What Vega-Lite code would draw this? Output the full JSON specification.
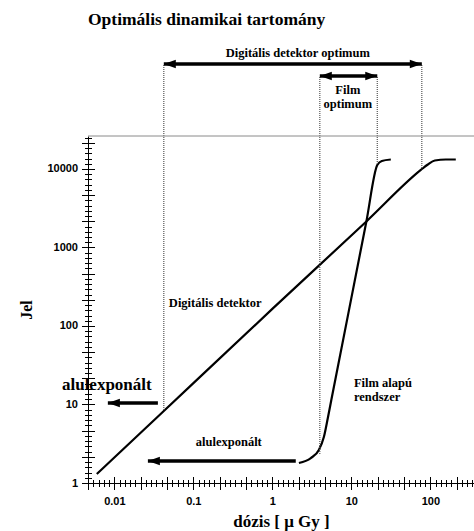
{
  "$schema": "https://vega.github.io/schema/vega-lite/v6.json",
  "autosize": {"type": "none"},
  "width": 386,
  "height": 347,
  "padding": {"left": 88, "top": 136, "right": 0, "bottom": 48},
  "background": "white",
  "title": {
    "text": "Optimális dinamikai tartomány",
    "anchor": "start",
    "frame": "group",
    "font": "Liberation Serif",
    "fontSize": 17.5,
    "fontWeight": "bold",
    "color": "black",
    "baseline": "alphabetic",
    "offset": 4
  },
  "config": {"view": {"stroke": null}},
  "datasets": {
    "curves": [
      {"series": "Digitális", "d": 0.006, "v": 1.3},
      {"series": "Digitális", "d": 0.0423, "v": 8.27},
      {"series": "Digitális", "d": 1, "v": 165},
      {"series": "Digitális", "d": 15.5, "v": 2144},
      {"series": "Digitális", "d": 75.8, "v": 9710},
      {"series": "Digitális", "d": 93, "v": 11400},
      {"series": "Digitális", "d": 114, "v": 12830},
      {"series": "Digitális", "d": 157, "v": 13210},
      {"series": "Digitális", "d": 210, "v": 13210},
      {"series": "Film", "d": 2.17, "v": 1.8},
      {"series": "Film", "d": 3.07, "v": 2.08},
      {"series": "Film", "d": 3.88, "v": 2.63},
      {"series": "Film", "d": 4.49, "v": 3.85},
      {"series": "Film", "d": 5.04, "v": 6.73},
      {"series": "Film", "d": 5.58, "v": 11.4},
      {"series": "Film", "d": 15.5, "v": 2144},
      {"series": "Film", "d": 21.3, "v": 11240},
      {"series": "Film", "d": 24.3, "v": 12650},
      {"series": "Film", "d": 31.6, "v": 13210}
    ],
    "dotted": [
      {"d": 0.0423, "v": 211000, "v2": 8.5},
      {"d": 3.99, "v": 148600, "v2": 2.3},
      {"d": 21.3, "v": 148600, "v2": 11240},
      {"d": 78, "v": 211000, "v2": 9900}
    ],
    "arrows": [
      {"arrow": "Digitális optimum", "d": 0.0423, "d2": 78, "v": 217700},
      {"arrow": "Film optimum", "d": 3.99, "d2": 21.3, "v": 153000},
      {"arrow": "alulexponált bal", "d": 0.00828, "d2": 0.0356, "v": 10.45},
      {"arrow": "alulexponált alsó", "d": 0.0266, "d2": 1.98, "v": 1.91}
    ],
    "heads": [
      {"d": 0.0423, "v": 217700, "dir": "left"},
      {"d": 78, "v": 217700, "dir": "right"},
      {"d": 3.99, "v": 153000, "dir": "left"},
      {"d": 21.3, "v": 153000, "dir": "right"},
      {"d": 0.00828, "v": 10.45, "dir": "left"},
      {"d": 0.0266, "v": 1.91, "dir": "left"}
    ],
    "labelsCenter": [
      {"label": "Digitális detektor optimum", "d": 2.1, "v": 300600},
      {"label": "Film", "d": 9.03, "v": 100000},
      {"label": "optimum", "d": 9.03, "v": 67300},
      {"label": "alulexponált", "d": 0.281, "v": 3.33}
    ],
    "labelsLeft": [
      {"label": "Digitális detektor", "d": 0.049, "v": 196},
      {"label": "Film alapú", "d": 10.8, "v": 18.8},
      {"label": "rendszer", "d": 10.8, "v": 12.5}
    ],
    "labelsBig": [
      {"label": "alulexponált", "d": 0.00804, "v": 17.7}
    ],
    "border": [
      {"v": 26300}
    ]
  },
  "layer": [
    {
      "data": {"name": "curves"},
      "mark": {"type": "line", "color": "black", "strokeWidth": 2.2, "interpolate": "monotone"},
      "encoding": {
        "x": {
          "field": "d", "type": "quantitative",
          "scale": {"type": "log", "domain": [0.004642, 357], "nice": false},
          "axis": {
            "orient": "bottom",
            "values": [0.004642, 0.005412, 0.00631, 0.007356, 0.008577, 0.01, 0.01166, 0.01359, 0.01585, 0.01848, 0.02154, 0.02512, 0.02929, 0.03415, 0.03981, 0.04642, 0.05412, 0.0631, 0.07356, 0.08577, 0.1, 0.1166, 0.1359, 0.1585, 0.1848, 0.2154, 0.2512, 0.2929, 0.3415, 0.3981, 0.4642, 0.5412, 0.631, 0.7356, 0.8577, 1, 1.166, 1.359, 1.585, 1.848, 2.154, 2.512, 2.929, 3.415, 3.981, 4.642, 5.412, 6.31, 7.356, 8.577, 10, 11.66, 13.59, 15.85, 18.48, 21.54, 25.12, 29.29, 34.15, 39.81, 46.42, 54.12, 63.1, 73.56, 85.77, 100, 116.6, 135.9, 158.5, 184.8, 215.4, 251.2, 292.9, 341.5],
            "title": "dózis [ μ Gy ]",
            "titleFont": "Liberation Serif", "titleFontSize": 17, "titleFontWeight": "bold", "titleColor": "black", "titlePadding": 7,
            "labelExpr": "abs(log(datum.value)/LN10 - round(log(datum.value)/LN10)) < 0.005 ? toString(datum.value) : ''",
            "labelFont": "Liberation Sans", "labelFontWeight": "bold", "labelFontSize": 11, "labelColor": "black", "labelPadding": 6,
            "labelOverlap": false, "labelFlush": false, "labelBound": false,
            "tickSize": {"condition": {"test": "abs(3*log(datum.value)/LN10 - round(3*log(datum.value)/LN10)) < 0.02", "value": 6.5}, "value": 3.5},
            "tickColor": "black", "tickWidth": 1, "domainColor": "black", "domainWidth": 1, "grid": false
          }
        },
        "y": {
          "field": "v", "type": "quantitative",
          "scale": {"type": "log", "domain": [1, 26300], "nice": false},
          "axis": {
            "orient": "left",
            "values": [1, 1.166, 1.359, 1.585, 1.848, 2.154, 2.512, 2.929, 3.415, 3.981, 4.642, 5.412, 6.31, 7.356, 8.577, 10, 11.66, 13.59, 15.85, 18.48, 21.54, 25.12, 29.29, 34.15, 39.81, 46.42, 54.12, 63.1, 73.56, 85.77, 100, 116.6, 135.9, 158.5, 184.8, 215.4, 251.2, 292.9, 341.5, 398.1, 464.2, 541.2, 631, 735.6, 857.7, 1000, 1166, 1359, 1585, 1848, 2154, 2512, 2929, 3415, 3981, 4642, 5412, 6310, 7356, 8577, 10000, 11660, 13590, 15850, 18480, 21540, 25120],
            "title": "Jel",
            "titleFont": "Liberation Serif", "titleFontSize": 16, "titleFontWeight": "bold", "titleColor": "black", "titlePadding": 12,
            "labelExpr": "abs(log(datum.value)/LN10 - round(log(datum.value)/LN10)) < 0.005 ? toString(datum.value) : ''",
            "labelFont": "Liberation Sans", "labelFontWeight": "bold", "labelFontSize": 11, "labelColor": "black", "labelPadding": 4,
            "labelOverlap": false, "labelFlush": false, "labelBound": false,
            "tickSize": {"condition": {"test": "abs(3*log(datum.value)/LN10 - round(3*log(datum.value)/LN10)) < 0.02", "value": 6.5}, "value": 3.5},
            "tickColor": "black", "tickWidth": 1, "domainColor": "black", "domainWidth": 1, "grid": false
          }
        },
        "detail": {"field": "series", "type": "nominal"}
      }
    },
    {
      "data": {"name": "dotted"},
      "mark": {"type": "rule", "color": "#555555", "strokeWidth": 1.2, "strokeDash": [1, 1]},
      "encoding": {
        "x": {
          "field": "d", "type": "quantitative",
          "scale": {"type": "log", "domain": [0.004642, 357], "nice": false},
          "axis": {
            "orient": "bottom",
            "values": [0.004642, 0.005412, 0.00631, 0.007356, 0.008577, 0.01, 0.01166, 0.01359, 0.01585, 0.01848, 0.02154, 0.02512, 0.02929, 0.03415, 0.03981, 0.04642, 0.05412, 0.0631, 0.07356, 0.08577, 0.1, 0.1166, 0.1359, 0.1585, 0.1848, 0.2154, 0.2512, 0.2929, 0.3415, 0.3981, 0.4642, 0.5412, 0.631, 0.7356, 0.8577, 1, 1.166, 1.359, 1.585, 1.848, 2.154, 2.512, 2.929, 3.415, 3.981, 4.642, 5.412, 6.31, 7.356, 8.577, 10, 11.66, 13.59, 15.85, 18.48, 21.54, 25.12, 29.29, 34.15, 39.81, 46.42, 54.12, 63.1, 73.56, 85.77, 100, 116.6, 135.9, 158.5, 184.8, 215.4, 251.2, 292.9, 341.5],
            "title": null, "labels": false, "domain": false, "grid": false,
            "tickSize": {"condition": {"test": "abs(3*log(datum.value)/LN10 - round(3*log(datum.value)/LN10)) < 0.02", "value": -6.5}, "value": -3.5},
            "tickColor": "black", "tickWidth": 1
          }
        },
        "y": {
          "field": "v", "type": "quantitative",
          "scale": {"type": "log", "domain": [1, 26300], "nice": false},
          "axis": {
            "orient": "left",
            "values": [1, 1.166, 1.359, 1.585, 1.848, 2.154, 2.512, 2.929, 3.415, 3.981, 4.642, 5.412, 6.31, 7.356, 8.577, 10, 11.66, 13.59, 15.85, 18.48, 21.54, 25.12, 29.29, 34.15, 39.81, 46.42, 54.12, 63.1, 73.56, 85.77, 100, 116.6, 135.9, 158.5, 184.8, 215.4, 251.2, 292.9, 341.5, 398.1, 464.2, 541.2, 631, 735.6, 857.7, 1000, 1166, 1359, 1585, 1848, 2154, 2512, 2929, 3415, 3981, 4642, 5412, 6310, 7356, 8577, 10000, 11660, 13590, 15850, 18480, 21540, 25120],
            "title": null, "labels": false, "domain": false, "grid": false,
            "tickSize": {"condition": {"test": "abs(3*log(datum.value)/LN10 - round(3*log(datum.value)/LN10)) < 0.02", "value": -6.5}, "value": -3.5},
            "tickColor": "black", "tickWidth": 1
          }
        },
        "y2": {"field": "v2"}
      }
    },
    {
      "data": {"name": "border"},
      "mark": {"type": "rule", "color": "#8a8a8a", "strokeWidth": 1},
      "encoding": {
        "y": {"field": "v", "type": "quantitative", "axis": null}
      }
    },
    {
      "data": {"name": "arrows"},
      "mark": {"type": "rule", "color": "black", "strokeWidth": 3.5},
      "encoding": {
        "x": {"field": "d", "type": "quantitative", "axis": null},
        "x2": {"field": "d2"},
        "y": {"field": "v", "type": "quantitative", "axis": null}
      }
    },
    {
      "data": {"name": "heads"},
      "mark": {"type": "point", "filled": true, "color": "black", "opacity": 1, "size": 144, "strokeWidth": 0},
      "encoding": {
        "x": {"field": "d", "type": "quantitative", "axis": null},
        "y": {"field": "v", "type": "quantitative", "axis": null},
        "shape": {
          "field": "dir", "type": "nominal", "legend": null,
          "scale": {"domain": ["left", "right"], "range": ["M0,0L2,-0.7L2,0.7Z", "M0,0L-2,-0.7L-2,0.7Z"]}
        }
      }
    },
    {
      "data": {"name": "labelsCenter"},
      "mark": {"type": "text", "font": "Liberation Serif", "fontSize": 12.5, "fontWeight": "bold", "color": "black", "align": "center", "baseline": "middle"},
      "encoding": {
        "x": {"field": "d", "type": "quantitative", "axis": null},
        "y": {"field": "v", "type": "quantitative", "axis": null},
        "text": {"field": "label"}
      }
    },
    {
      "data": {"name": "labelsLeft"},
      "mark": {"type": "text", "font": "Liberation Serif", "fontSize": 12.5, "fontWeight": "bold", "color": "black", "align": "left", "baseline": "middle"},
      "encoding": {
        "x": {"field": "d", "type": "quantitative", "axis": null},
        "y": {"field": "v", "type": "quantitative", "axis": null},
        "text": {"field": "label"}
      }
    },
    {
      "data": {"name": "labelsBig"},
      "mark": {"type": "text", "font": "Liberation Serif", "fontSize": 17, "fontWeight": "bold", "color": "black", "align": "center", "baseline": "middle"},
      "encoding": {
        "x": {"field": "d", "type": "quantitative", "axis": null},
        "y": {"field": "v", "type": "quantitative", "axis": null},
        "text": {"field": "label"}
      }
    }
  ],
  "resolve": {"axis": {"x": "independent", "y": "independent"}}
}
